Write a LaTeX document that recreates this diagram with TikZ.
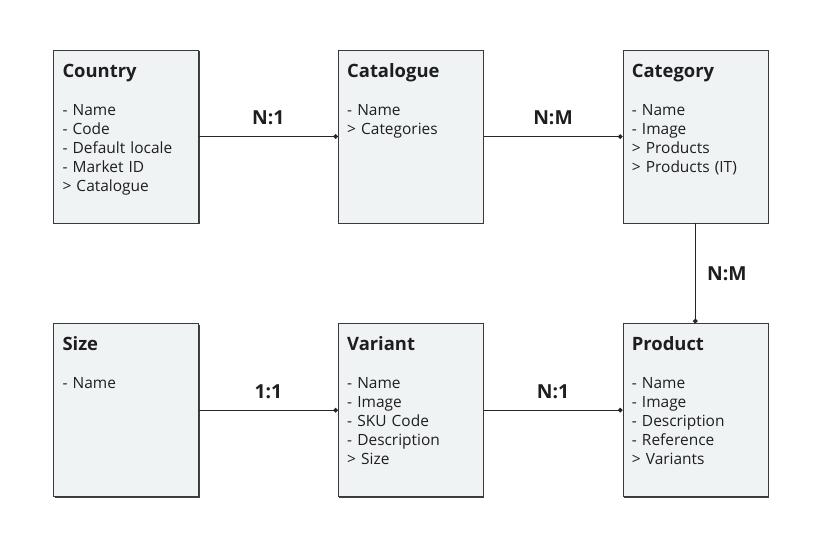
\documentclass[tikz,border=0pt]{standalone}
\usepackage{fontspec}
\setmainfont{Open Sans}
\usepackage{xcolor}
\definecolor{boxFill}{HTML}{F0F3F4}
\definecolor{boxLine}{HTML}{3A3A3A}
\definecolor{inkText}{HTML}{1E1E1E}
\usepackage{tikz}
\usetikzlibrary{
    arrows.meta,
    shadows,
    positioning
}
\tikzset{
    % Entity box - light grey card with a hard shadow
    entity/.style={
        rectangle,
        draw=boxLine,
        line width=0.5pt,
        fill=boxFill,
        drop shadow={
            shadow xshift=0.9pt,
            shadow yshift=-0.9pt,
            fill=black,
            opacity=0.75
        },
        text=inkText,
        font=\fontsize{11.6}{14.25}\selectfont,
        align=left,
        text width=95.25pt,
        inner xsep=6.75pt,
        inner ysep=0pt,
        text height=20.25pt,
        text depth=109.5pt,
    },
    % Relation line - thin with a dot at the far end
    rel/.style={
        -{Circle[length=3.4pt]},
        line width=0.9pt,
        draw=black!85,
    },
    % Cardinality label
    card/.style={
        font=\bfseries\fontsize{14.5}{16}\selectfont,
        text=inkText,
    },
}

\begin{document}
\begin{tikzpicture}[node distance=75pt and 104.25pt]
    \useasboundingbox (0,0) rectangle (615pt,-417pt);

    \node (country) [entity] at (94.5pt,-102.4pt)
        {{\fontsize{13.8}{16}\selectfont\bfseries Country}\\[14.25pt]
         - Name\\ - Code\\ - Default locale\\ - Market ID\\ > Catalogue};
    \node (catalogue) [entity, right=of country]
        {{\fontsize{13.8}{16}\selectfont\bfseries Catalogue}\\[14.25pt]
         - Name\\ > Categories};
    \node (category) [entity, right=of catalogue]
        {{\fontsize{13.8}{16}\selectfont\bfseries Category}\\[14.25pt]
         - Name\\ - Image\\ > Products\\ > Products (IT)};
    \node (size) [entity, below=of country]
        {{\fontsize{13.8}{16}\selectfont\bfseries Size}\\[14.25pt]
         - Name};
    \node (variant) [entity, below=of catalogue]
        {{\fontsize{13.8}{16}\selectfont\bfseries Variant}\\[14.25pt]
         - Name\\ - Image\\ - SKU Code\\ - Description\\ > Size};
    \node (product) [entity, below=of category]
        {{\fontsize{13.8}{16}\selectfont\bfseries Product}\\[14.25pt]
         - Name\\ - Image\\ - Description\\ - Reference\\ > Variants};

    \draw [rel] (country) -- node [card, above=5pt] {N:1} (catalogue);
    \draw [rel] (catalogue) -- node [card, above=5pt] {N:M} (category);
    \draw [rel] (category) -- node [card, right=5pt] {N:M} (product);
    \draw [rel] (size) -- node [card, above=5pt] {1:1} (variant);
    \draw [rel] (variant) -- node [card, above=5pt] {N:1} (product);
\end{tikzpicture}
\end{document}
